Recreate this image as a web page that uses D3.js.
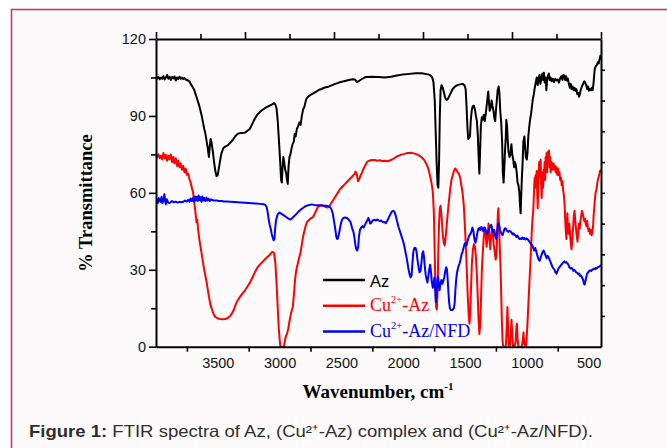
<!DOCTYPE html>
<html>
<head>
<meta charset="utf-8">
<script src="https://cdn.jsdelivr.net/npm/d3@7"></script>
<style>
  html, body { margin: 0; padding: 0; background: #fff; }
  svg { display: block; }
</style>
</head>
<body>
<div id="container"></div>
<script>
// spectra, [wavenumber cm-1, % transmittance]
const azData = [[4000,105],[3990,104.6],[3980,105.2],[3970,104.3],[3960,105],[3950,104.5],[3940,105.5],[3930,104.2],[3920,105],[3910,106],[3900,104.5],[3890,105.3],[3880,104],[3870,105.2],[3860,104.6],[3850,105.4],[3840,103.8],[3830,105],[3820,104.4],[3810,105.3],[3800,104.5],[3790,105],[3780,104.4],[3770,104.8],[3760,104.2],[3750,104],[3740,103.8],[3730,103.5],[3720,102.5],[3710,101.8],[3700,101],[3690,100],[3680,98.5],[3670,97],[3660,95.5],[3650,94],[3640,92],[3630,90],[3620,87.5],[3610,85],[3600,83],[3590,80],[3580,77],[3572,74],[3565,78],[3558,81],[3550,79.5],[3540,76],[3530,72],[3520,68.5],[3510,66.5],[3500,67],[3490,70],[3480,73],[3470,75.5],[3455,77.5],[3440,78],[3420,78.5],[3400,79.5],[3380,80.5],[3360,82],[3340,83],[3320,83.3],[3300,83.3],[3280,83.5],[3260,84.2],[3240,85],[3220,87],[3200,89],[3180,90.5],[3160,91.5],[3140,92.3],[3120,93],[3100,93.5],[3080,94],[3060,94.5],[3045,95],[3035,94.5],[3025,93],[3015,88],[3005,80],[2995,72],[2988,65],[2982,64],[2976,70],[2970,74],[2963,72],[2955,69],[2948,68],[2940,65],[2934,63.5],[2928,70],[2920,74],[2912,75],[2905,77],[2895,79],[2885,80],[2878,83],[2870,82],[2860,85],[2850,86],[2840,87.5],[2830,86.5],[2820,90],[2810,92.5],[2800,93.5],[2795,94.5],[2785,96.5],[2770,97.5],[2750,98.2],[2720,99],[2700,99.6],[2680,100.2],[2660,100.5],[2640,101],[2600,101.5],[2560,102.3],[2520,103],[2480,103.5],[2440,104],[2410,104.3],[2390,104.2],[2375,103.2],[2360,103.6],[2340,104.2],[2320,104.8],[2300,105.2],[2250,105.3],[2200,105.2],[2150,105],[2100,105.3],[2050,105.8],[2000,106.2],[1950,106.4],[1900,106.6],[1850,106.6],[1800,106.2],[1780,105.8],[1765,105],[1755,103],[1745,96],[1738,85],[1730,72],[1722,63],[1716,62],[1710,72],[1704,90],[1698,100],[1690,102],[1680,101],[1670,99],[1660,97],[1650,96.2],[1640,96.5],[1630,97.5],[1620,98.5],[1600,100.5],[1580,101.5],[1560,102],[1540,102.3],[1520,102.5],[1505,102],[1495,100.5],[1488,94],[1480,85],[1474,81],[1466,81.5],[1460,82],[1454,88],[1446,92],[1438,93.8],[1428,94],[1420,92.5],[1412,90],[1404,88],[1396,82],[1390,74],[1384,67.5],[1378,76],[1372,86],[1364,89.5],[1356,88.5],[1348,90.5],[1340,88],[1332,91],[1325,94],[1318,97],[1312,99.5],[1306,95],[1300,92],[1293,93],[1285,96],[1278,94],[1270,92],[1262,89],[1256,88],[1250,92],[1243,96],[1236,100],[1228,101.5],[1222,99],[1215,92],[1208,88],[1200,80],[1194,68],[1188,64],[1182,70],[1176,77],[1170,82],[1166,88.5],[1160,86],[1154,80],[1148,76],[1140,74],[1132,75],[1125,79],[1118,75],[1110,73],[1103,70],[1097,72],[1090,71],[1082,68],[1075,64],[1068,63],[1060,60],[1055,55],[1050,52],[1046,58],[1040,66],[1034,72],[1028,80],[1020,82],[1014,78],[1008,74],[1000,73],[994,76],[988,82],[980,86],[972,89],[965,91],[958,94],[950,97],[943,98.5],[936,101],[928,103],[920,105],[912,102],[905,104.5],[898,106],[890,102.5],[882,105],[875,106.5],[868,104],[862,106.8],[855,103],[848,105],[842,100],[836,104],[830,105.5],[822,106.5],[815,104],[808,105],[800,103.5],[790,104.5],[780,103.2],[770,104.5],[760,103.8],[750,104.2],[740,103],[730,104.8],[720,105.5],[712,104],[705,106],[698,105.8],[690,104],[682,105.5],[675,103.8],[668,104.5],[660,102.5],[652,101],[645,102.5],[638,100.5],[630,101.5],[622,100],[615,101],[608,99.8],[600,100.5],[592,98.5],[585,99],[578,97.5],[572,98.2],[565,100],[558,101],[550,102],[542,102.8],[535,103.5],[528,103],[520,102],[512,100.5],[505,101.5],[498,99.8],[490,100.5],[482,100],[475,101],[468,100],[460,103],[455,106],[450,108.5],[440,109.5],[432,110],[425,111],[418,110.5],[412,112],[405,113.5],[400,112]];

const cuAzData = [[4000,74.5],[3990,74],[3980,75],[3970,73.5],[3960,74.5],[3950,73],[3940,75.5],[3930,73.5],[3920,74.8],[3910,72.5],[3900,74.5],[3890,73],[3880,75],[3870,72],[3860,74],[3850,71.5],[3840,73.5],[3830,70.5],[3820,72.5],[3810,70],[3800,71.5],[3790,69],[3780,70.5],[3770,68],[3760,69.5],[3750,67],[3740,67.5],[3730,65.5],[3720,64],[3710,62],[3700,60],[3690,56],[3680,52],[3672,48.5],[3666,49.5],[3660,46],[3650,42],[3640,39],[3630,36],[3620,33],[3610,30],[3600,27.5],[3590,25],[3580,22],[3570,19],[3560,16.5],[3550,15],[3540,13.5],[3530,12.3],[3520,11.6],[3500,11],[3480,10.8],[3460,10.7],[3440,10.8],[3420,11.2],[3400,12],[3385,13],[3370,14.5],[3355,16.5],[3340,18],[3320,19.5],[3300,20.8],[3280,22],[3260,23.5],[3240,25],[3220,27],[3200,29],[3180,30.8],[3160,32],[3140,33],[3120,34],[3100,35],[3080,35.8],[3065,36.8],[3055,37],[3045,36.5],[3035,33],[3025,25],[3015,15],[3008,8],[3000,3],[2995,0.5],[2985,0],[2975,0],[2965,0],[2958,2],[2950,4],[2940,5],[2930,7],[2920,10],[2910,12.5],[2900,14.5],[2893,15.5],[2885,20],[2875,26],[2868,29],[2860,31],[2850,33],[2840,35],[2830,37],[2820,40],[2810,43],[2800,45],[2790,47],[2780,48.5],[2770,49],[2750,50],[2730,50.5],[2715,52],[2700,53.5],[2690,54.5],[2670,55],[2650,55],[2630,54.5],[2610,54.3],[2595,55],[2580,56.2],[2565,57.3],[2550,58.5],[2530,60],[2510,61.5],[2490,62.5],[2470,63.5],[2450,64.5],[2430,65.5],[2410,66.5],[2395,67.3],[2385,68.3],[2375,67],[2365,64.5],[2355,65.5],[2345,66.8],[2335,67.8],[2320,69.5],[2305,71],[2290,72.2],[2270,72.6],[2250,72.8],[2230,72.8],[2210,72.5],[2190,72.7],[2170,72.4],[2150,72.5],[2130,72.3],[2110,72.6],[2090,73],[2070,73.6],[2050,74.2],[2030,74.6],[2010,75],[1990,75.2],[1970,75.5],[1950,75.5],[1930,75.6],[1910,75.3],[1890,75],[1870,74.5],[1850,73.8],[1830,72.8],[1815,71.5],[1800,69.8],[1790,68],[1780,66],[1770,63.5],[1760,60],[1752,52],[1746,38],[1740,24],[1734,15.5],[1728,14.5],[1722,22],[1716,38],[1710,48],[1704,54],[1698,55],[1692,52],[1686,48],[1680,44],[1672,40.5],[1665,39.5],[1658,42],[1650,46.5],[1640,52],[1630,57],[1620,61.5],[1610,65],[1600,66.8],[1590,68.5],[1580,69.5],[1570,69],[1560,68],[1550,67.5],[1540,66],[1530,63],[1520,60],[1510,55],[1502,48],[1494,40],[1486,30],[1478,20],[1470,12],[1464,9],[1458,13],[1452,22],[1444,33],[1436,38],[1428,40],[1420,39],[1412,35],[1404,28],[1396,18],[1390,10],[1384,5],[1378,8],[1372,16],[1364,30],[1356,37],[1348,43],[1340,46.5],[1333,44],[1326,39],[1318,42],[1310,48],[1304,44],[1296,38],[1290,42],[1282,46],[1274,44],[1268,40],[1260,37],[1252,34],[1246,36],[1240,44],[1234,52],[1230,54],[1226,48],[1220,40],[1214,33],[1208,22],[1202,10],[1196,2],[1190,0],[1180,0],[1170,0],[1162,8],[1157,15.5],[1152,8],[1146,0],[1138,0],[1130,4],[1124,10.5],[1118,5],[1112,0],[1100,0],[1090,2],[1084,8],[1080,9],[1075,3],[1068,0],[1050,0],[1040,0],[1032,3],[1027,5.5],[1022,2],[1015,0],[1008,0],[1002,3],[996,8],[990,14],[984,20],[978,26],[972,32],[966,38],[960,45],[954,50],[948,53],[944,58],[940,63],[936,66],[932,62],[928,67],[924,65],[920,68.5],[916,60],[912,54],[908,62],[904,68],[900,72],[896,66],[892,70],[888,73],[884,63],[880,58],[876,65],[872,68],[868,62],[864,69],[860,67.5],[856,72],[852,65],[848,74],[844,70],[840,75.5],[836,68],[832,73],[828,76],[824,72],[820,76.5],[816,70],[812,74],[808,68],[804,71],[800,72],[795,69],[790,70.5],[784,71.5],[778,69],[772,70.5],[766,68],[760,70],[754,67],[748,69.5],[742,67],[736,68],[730,65],[724,66],[718,63],[712,64.5],[706,61],[700,59],[694,55],[690,50],[686,46],[680,42],[676,48],[672,52],[668,46],[662,44],[656,48],[650,44],[644,40],[638,38],[632,42],[626,46],[620,51],[614,53],[608,49],[602,46],[596,43],[590,41],[584,45],[578,48],[572,46],[566,49],[560,51],[554,53],[548,52],[542,50.5],[536,49],[530,50],[524,48],[518,47],[512,49],[506,46.5],[500,45],[494,46],[488,44],[482,45.5],[476,43.5],[470,44.5],[464,47],[460,51],[455,54],[450,57],[444,60],[438,61],[432,63],[426,65],[420,66],[414,67],[408,68.5],[400,69]];

const nfdData = [[4000,56.5],[3992,57.5],[3985,56],[3978,58],[3970,57],[3962,56.5],[3955,58.5],[3948,56],[3940,57],[3932,59.5],[3926,57],[3920,55.5],[3912,57.5],[3905,56.5],[3895,56],[3885,56.2],[3870,56.8],[3855,56.3],[3840,56.6],[3825,56.2],[3810,56.5],[3795,56.3],[3780,56.5],[3765,57],[3750,56.6],[3740,57.3],[3730,56.5],[3720,57.8],[3710,56.8],[3700,58],[3692,56.5],[3685,58.6],[3678,57],[3670,58.5],[3662,56.8],[3655,59],[3648,57.2],[3640,58.3],[3632,56.5],[3625,58.6],[3618,57],[3610,58],[3600,56.8],[3592,58.2],[3585,57],[3575,57.8],[3565,56.8],[3555,57.5],[3545,57.2],[3530,57],[3510,57],[3490,56.8],[3470,56.8],[3450,56.6],[3430,56.6],[3400,56.5],[3370,56.4],[3340,56.3],[3310,56.2],[3280,56.1],[3250,56],[3220,55.9],[3190,55.8],[3160,55.7],[3130,55.6],[3115,55.3],[3105,54.5],[3095,52],[3088,49.5],[3080,47.5],[3072,46],[3064,44],[3056,42.5],[3048,41.5],[3042,42],[3036,46],[3030,49],[3020,51],[3010,52],[3000,52.3],[2990,52],[2975,51.5],[2960,51],[2945,50.5],[2930,50],[2915,49.6],[2900,50],[2885,50.8],[2870,51.5],[2855,52.3],[2840,53],[2820,53.8],[2800,54.5],[2780,55],[2760,55.3],[2740,55.5],[2720,55.3],[2700,55.2],[2680,55.2],[2660,55.2],[2640,55],[2620,55],[2600,54.7],[2590,54.3],[2580,53.5],[2570,52],[2560,49],[2550,46],[2542,43],[2535,42],[2528,42.2],[2520,44],[2512,46],[2504,48],[2495,49.5],[2485,50.2],[2470,50.4],[2455,50.2],[2440,49.5],[2428,48.8],[2420,47.5],[2412,46],[2404,45],[2396,43],[2388,40],[2380,38],[2372,37.5],[2364,39],[2358,43],[2350,45.5],[2340,46.5],[2330,47],[2320,46.5],[2310,47.5],[2300,48.5],[2290,49.2],[2282,50.2],[2275,49.5],[2268,48],[2260,48.2],[2250,49],[2240,49.4],[2230,49.5],[2220,49.2],[2210,49.6],[2200,49.3],[2190,49],[2180,49.2],[2170,48.8],[2160,48.5],[2150,48.6],[2140,48.2],[2130,49],[2120,50],[2110,51],[2100,52],[2090,52.8],[2080,53],[2070,52.5],[2060,51],[2050,49],[2040,47],[2030,45.5],[2020,44],[2010,42.5],[2000,41],[1990,39],[1980,36.5],[1970,34],[1960,31],[1950,28.5],[1940,27],[1932,28],[1925,33],[1918,37],[1910,38.5],[1900,38.5],[1892,37],[1885,34],[1876,31],[1868,29],[1860,29.5],[1852,33],[1845,36.5],[1838,37.2],[1832,35],[1825,31],[1818,28],[1810,26],[1804,25],[1798,27],[1790,30],[1782,32],[1775,29],[1768,25],[1760,23],[1754,24],[1748,27],[1742,23],[1736,17.5],[1730,20],[1724,26],[1718,27.5],[1712,24],[1706,22],[1700,24.5],[1692,26],[1684,24.5],[1676,25.5],[1668,27],[1660,29.5],[1652,31],[1646,30],[1640,26],[1634,21],[1628,17],[1622,15],[1614,14.3],[1606,14.3],[1598,14.5],[1590,15],[1584,17],[1578,22],[1572,26],[1566,28.5],[1560,30],[1552,31.5],[1544,32.5],[1536,34],[1528,36],[1520,37],[1512,38.5],[1504,40],[1496,40.5],[1488,39.5],[1480,41],[1472,42.5],[1464,43.5],[1456,44],[1448,45],[1440,46.5],[1432,45],[1424,42],[1416,40.5],[1408,42],[1400,44.5],[1392,46],[1384,46.3],[1376,45.5],[1368,46.8],[1360,46],[1352,45],[1344,46.5],[1336,46],[1328,44.5],[1320,44],[1312,45],[1304,46],[1296,47],[1288,47.5],[1280,46],[1272,44.5],[1264,45.5],[1256,43],[1248,42],[1240,45],[1234,47.5],[1228,48.2],[1222,47],[1216,45.5],[1210,44.5],[1204,44],[1196,43.5],[1188,44.8],[1180,46],[1172,46.2],[1164,45.5],[1156,45],[1148,44.8],[1140,45.2],[1132,45],[1124,44.5],[1116,43.8],[1108,44.2],[1100,43.6],[1092,43.4],[1084,42.8],[1076,43.3],[1068,42.5],[1060,42],[1052,42.2],[1044,42],[1036,42.6],[1028,42],[1020,42.4],[1012,41.8],[1004,42.2],[996,42],[988,41.6],[980,41],[972,40.5],[964,40],[956,39.5],[948,38.5],[940,37.5],[932,38.5],[926,37.5],[920,36.5],[912,35],[904,34],[896,33.5],[888,34.8],[880,36],[872,37],[864,37.5],[856,36.5],[848,35.5],[840,34.5],[832,35.5],[824,34.8],[816,34],[808,33],[800,32],[792,31],[784,30.5],[776,30],[768,29],[760,28.5],[752,29.5],[744,30.5],[736,31],[728,31.5],[720,32],[712,32.5],[704,33],[696,33.3],[688,32.8],[680,33],[672,32.5],[664,32],[656,31],[648,30.5],[640,30.8],[632,30.3],[624,29.6],[616,30],[608,29.5],[600,29],[592,28.8],[584,28.3],[576,28.5],[568,27.5],[560,27.7],[552,26.8],[544,26],[538,24.5],[532,24.2],[526,25.5],[520,27],[512,28.5],[504,29],[496,29.5],[488,29.8],[480,29.5],[472,30],[464,30.2],[456,30.5],[448,30.2],[440,30.8],[432,30.5],[424,31],[416,31.2],[408,31.5],[400,31.8]];

const yMajor = [0, 30, 60, 90, 120]
const yMinor = [15, 45, 75, 105]
const xMajor = [3500, 3000, 2500, 2000, 1500, 1000, 500]
const xMinor = [3750, 3250, 2750, 2250, 1750, 1250, 750]

const series = [
    { name: "Az", data: azData, color: "#000000" },
    { name: "Cu", rest: "-Az", data: cuAzData, color: "#ff0000" },
    { name: "Cu", rest: "-Az/NFD", data: nfdData, color: "#0000ff" }
]

const sans = "'Liberation Sans', Arial, sans-serif"
const serif = "'Liberation Serif', 'Times New Roman', serif"

const width = 667, height = 448
const plot = { left: 156, right: 601, top: 39, bottom: 346.7 }

const svg = d3.select('#container')
    .append('svg').attr('width', width).attr('height', height)

// framed figure panel
svg.append('rect').attr('x', 11.5).attr('y', 9.5)
    .attr('width', 720).attr('height', 500)
    .attr('fill', '#fcfafb').attr('stroke', '#c93a62').attr('stroke-width', 1.6)

const x = d3.scaleLinear().domain([4000, 400]).range([plot.left, plot.right])
const y = d3.scaleLinear().domain([0, 120]).range([plot.bottom, plot.top])
// mirror axes carry plain equal divisions
const topScale = d3.scaleLinear().domain([0, 10]).range([plot.left, plot.right])
const rightScale = d3.scaleLinear().domain([0, 10]).range([plot.bottom, plot.top])

svg.append('clipPath').attr('id', 'plotclip')
    .append('rect').attr('x', plot.left).attr('y', plot.top - 2)
    .attr('width', plot.right - plot.left).attr('height', plot.bottom - plot.top + 2)

const line = d3.line().x(d => x(d[0])).y(d => y(d[1]))

const lines = svg.append('g').attr('clip-path', 'url(#plotclip)')
lines.selectAll('path')
    .data(series)
    .enter()
    .append('path')
    .attr('d', d => line(d.data))
    .attr('fill', 'none')
    .attr('stroke', d => d.color)
    .attr('stroke-width', 2)
    .attr('stroke-linejoin', 'round')

const styleAxis = g => {
    g.selectAll('.domain').attr('stroke', '#000').attr('stroke-width', 2)
    g.selectAll('.tick line').attr('stroke', '#000').attr('stroke-width', 1.6)
    g.selectAll('.tick text').attr('fill', '#111').style('font-family', sans).style('font-size', '14.5px')
}

// bottom
svg.append('g').attr('transform', `translate(0,${plot.bottom})`)
    .call(d3.axisBottom(x).tickValues(xMinor).tickSize(5).tickSizeOuter(0).tickFormat(''))
    .call(styleAxis)
svg.append('g').attr('transform', `translate(0,${plot.bottom})`)
    .call(d3.axisBottom(x).tickValues(xMajor).tickSize(0).tickSizeOuter(0).tickPadding(11).tickFormat(d3.format('d')))
    .call(styleAxis)
    .call(g => g.select('.domain').remove())

// left
svg.append('g').attr('transform', `translate(${plot.left},0)`)
    .call(d3.axisLeft(y).tickValues(yMajor).tickSize(7).tickSizeOuter(0).tickPadding(3))
    .call(styleAxis)
svg.append('g').attr('transform', `translate(${plot.left},0)`)
    .call(d3.axisLeft(y).tickValues(yMinor).tickSize(5).tickSizeOuter(0).tickFormat(''))
    .call(styleAxis)
    .call(g => g.select('.domain').remove())

// top
svg.append('g').attr('transform', `translate(0,${plot.top})`)
    .call(d3.axisTop(topScale).tickValues([0, 2, 4, 6, 8, 10]).tickSize(7).tickSizeOuter(0).tickFormat(''))
    .call(styleAxis)
svg.append('g').attr('transform', `translate(0,${plot.top})`)
    .call(d3.axisTop(topScale).tickValues([1, 3, 5, 7, 9]).tickSize(5).tickSizeOuter(0).tickFormat(''))
    .call(styleAxis)
    .call(g => g.select('.domain').remove())

// right
svg.append('g').attr('transform', `translate(${plot.right},0)`)
    .call(d3.axisRight(rightScale).tickValues(d3.range(1, 10)).tickSize(4).tickSizeOuter(0).tickFormat(''))
    .call(styleAxis)

// legend
const legend = svg.append('g').attr('transform', 'translate(323,280)')
series.forEach((s, i) => {
    const g = legend.append('g').attr('transform', `translate(0,${i * 25.8})`)
    g.append('line').attr('x1', 0).attr('x2', 42).attr('y1', 0).attr('y2', 0)
        .attr('stroke', s.color).attr('stroke-width', 2.5)
    if (!s.rest) {
        g.append('text').attr('x', 47).attr('y', 6.5)
            .style('font-family', sans).style('font-size', '16.5px')
            .attr('fill', s.color).text(s.name)
    } else {
        const t = g.append('text').attr('x', 47).attr('y', 5.5)
            .style('font-family', serif).style('font-size', '18px')
            .attr('fill', s.color)
        t.append('tspan').text(s.name)
        t.append('tspan').attr('dy', -8).style('font-size', '10.5px').text('2+')
        t.append('tspan').attr('dy', 8).text(s.rest)
    }
})

// axis titles
svg.append('text')
    .attr('transform', 'translate(92,203) rotate(-90)')
    .attr('text-anchor', 'middle')
    .style('font-family', serif).style('font-size', '18.5px').style('font-weight', 'bold')
    .text('% Transmittance')

const xt = svg.append('text')
    .attr('x', 378).attr('y', 398)
    .attr('text-anchor', 'middle')
    .style('font-family', serif).style('font-size', '19px').style('font-weight', 'bold')
xt.append('tspan').text('Wavenumber, cm')
xt.append('tspan').attr('dy', -8).style('font-size', '11px').text('-1')

// caption
const cap = svg.append('text')
    .attr('x', 29).attr('y', 437)
    .attr('textLength', 564).attr('lengthAdjust', 'spacingAndGlyphs')
    .style('font-family', sans).style('font-size', '16.5px').attr('fill', '#2e2e2e')
cap.append('tspan').style('font-weight', 'bold').text('Figure 1:')
cap.append('tspan').text(' FTIR spectra of Az, (Cu²⁺-Az) complex and (Cu²⁺-Az/NFD).')
</script>
</body>
</html>
